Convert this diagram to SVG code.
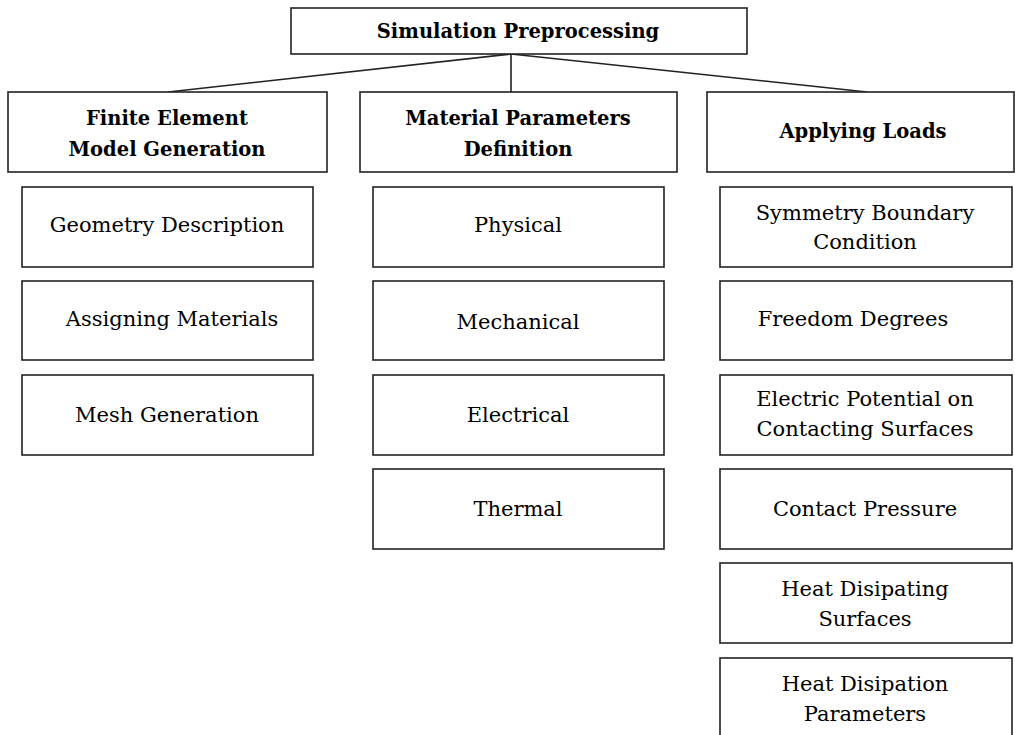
<svg xmlns="http://www.w3.org/2000/svg" width="1015" height="735" viewBox="0 0 1015 735">
<style>
rect{fill:#fff;stroke:#222;stroke-width:1.6}
text{font-family:"DejaVu Serif","Liberation Serif",serif;font-size:21px;fill:#000;text-anchor:middle}
.b{font-weight:bold;font-size:19.5px}
.c line{stroke:#222;stroke-width:1.6}
</style>
<rect width="1015" height="735" style="stroke:none"/>
<g class="c" id="connectors">
<line x1="511" y1="54" x2="168" y2="92"/>
<line x1="511" y1="54" x2="511" y2="92"/>
<line x1="511" y1="54" x2="867" y2="92"/>
</g>
<g id="root"><rect x="291" y="8" width="456" height="46"/><text class="b" x="518" y="38">Simulation Preprocessing</text></g>
<g id="fem"><rect x="8" y="92" width="319" height="80"/><text class="b" x="167" y="125">Finite Element</text><text class="b" x="167" y="156">Model Generation</text></g>
<g id="mat"><rect x="360" y="92" width="317" height="80"/><text class="b" x="518" y="125">Material Parameters</text><text class="b" x="518" y="156">Definition</text></g>
<g id="loads"><rect x="707" y="92" width="307" height="80"/><text class="b" x="863" y="138">Applying Loads</text></g>
<g id="geo"><rect x="22" y="187" width="291" height="80"/><text x="167" y="232">Geometry Description</text></g>
<g id="assign"><rect x="22" y="281" width="291" height="79"/><text x="172" y="326">Assigning Materials</text></g>
<g id="mesh"><rect x="22" y="375" width="291" height="80"/><text x="167" y="422">Mesh Generation</text></g>
<g id="phys"><rect x="373" y="187" width="291" height="80"/><text x="518" y="232">Physical</text></g>
<g id="mech"><rect x="373" y="281" width="291" height="79"/><text x="518" y="329">Mechanical</text></g>
<g id="elec"><rect x="373" y="375" width="291" height="80"/><text x="518" y="422">Electrical</text></g>
<g id="therm"><rect x="373" y="469" width="291" height="80"/><text x="518" y="516">Thermal</text></g>
<g id="sym"><rect x="720" y="187" width="292" height="80"/><text x="865" y="220">Symmetry Boundary</text><text x="865" y="249">Condition</text></g>
<g id="free"><rect x="720" y="281" width="292" height="79"/><text x="853" y="326">Freedom Degrees</text></g>
<g id="epot"><rect x="720" y="375" width="292" height="80"/><text x="865" y="406">Electric Potential on</text><text x="865" y="436">Contacting Surfaces</text></g>
<g id="cp"><rect x="720" y="469" width="292" height="80"/><text x="865" y="516">Contact Pressure</text></g>
<g id="hds"><rect x="720" y="563" width="292" height="80"/><text x="865" y="596">Heat Disipating</text><text x="865" y="626">Surfaces</text></g>
<g id="hdp"><rect x="720" y="658" width="292" height="90"/><text x="865" y="691">Heat Disipation</text><text x="865" y="721">Parameters</text></g>
</svg>
